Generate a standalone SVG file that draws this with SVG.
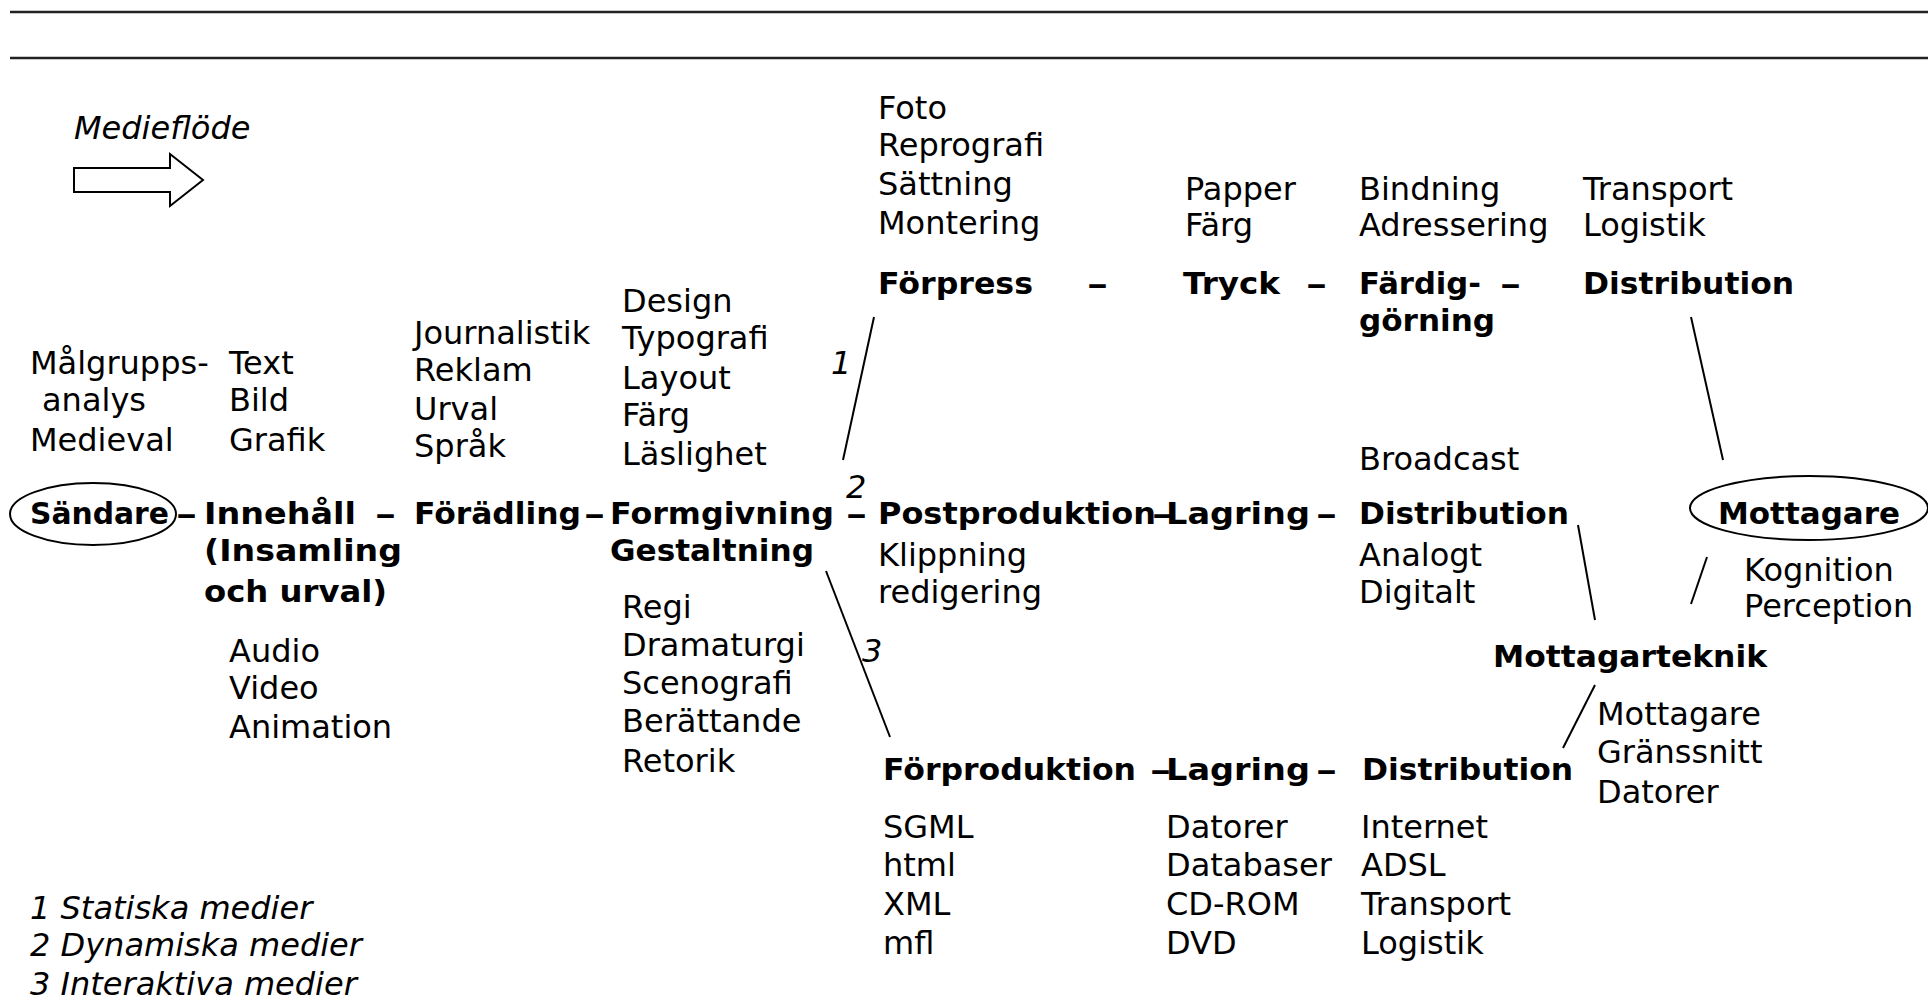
<svg xmlns="http://www.w3.org/2000/svg" width="1928" height="1008" viewBox="0 0 1928 1008">
<style>
text{font-family:"DejaVu Sans",Verdana,sans-serif;font-size:32px;fill:#000}
.b{font-weight:bold;font-size:31px}
.i{font-style:italic}
.ln{stroke:#000;stroke-width:2;fill:none}
.rule{stroke:#222;stroke-width:2.5}
.ell{stroke:#000;stroke-width:2;fill:none}
</style>
<rect width="1928" height="1008" fill="#fff"/>
<g id="frame">
<line class="rule" x1="10" y1="12" x2="1928" y2="12"/>
<line class="rule" x1="10" y1="58" x2="1928" y2="58"/>
</g>
<g id="medieflode">
<text class="i" x="74" y="139">Medieflöde</text>
<path d="M74 168 H170 V154 L203 180 L170 206 V192 H74 Z" fill="#fff" stroke="#000" stroke-width="2"/>
</g>
<g id="connectors">
<line class="ln" x1="874" y1="317" x2="843" y2="460"/>
<line class="ln" x1="826" y1="571" x2="890" y2="737"/>
<line class="ln" x1="1691" y1="317" x2="1723" y2="460"/>
<line class="ln" x1="1578" y1="525" x2="1595" y2="620"/>
<line class="ln" x1="1707" y1="557" x2="1691" y2="604"/>
<line class="ln" x1="1595" y1="685" x2="1563" y2="748"/>
<g id="dashes">
<text class="b" x="176" y="524" textLength="21" lengthAdjust="spacingAndGlyphs">–</text>
<text class="b" x="375" y="524" textLength="21" lengthAdjust="spacingAndGlyphs">–</text>
<text class="b" x="584" y="524" textLength="21" lengthAdjust="spacingAndGlyphs">–</text>
<text class="b" x="846" y="524" textLength="21" lengthAdjust="spacingAndGlyphs">–</text>
<text class="b" x="1152" y="524" textLength="21" lengthAdjust="spacingAndGlyphs">–</text>
<text class="b" x="1316" y="524" textLength="21" lengthAdjust="spacingAndGlyphs">–</text>
<text class="b" x="1087" y="294" textLength="21" lengthAdjust="spacingAndGlyphs">–</text>
<text class="b" x="1306" y="294" textLength="21" lengthAdjust="spacingAndGlyphs">–</text>
<text class="b" x="1500" y="294" textLength="21" lengthAdjust="spacingAndGlyphs">–</text>
<text class="b" x="1150" y="780" textLength="21" lengthAdjust="spacingAndGlyphs">–</text>
<text class="b" x="1316" y="780" textLength="21" lengthAdjust="spacingAndGlyphs">–</text>
</g>
<text class="i" x="831" y="374">1</text>
<text class="i" x="846" y="498">2</text>
<text class="i" x="862" y="662">3</text>
</g>
<g id="sandare">
<ellipse class="ell" cx="93" cy="514" rx="83" ry="31"/>
<text class="b" x="30" y="524" textLength="139" lengthAdjust="spacingAndGlyphs">Sändare</text>
<text x="30" y="374">Målgrupps-</text>
<text x="42" y="411">analys</text>
<text x="30" y="451">Medieval</text>
</g>
<g id="innehall">
<text class="b" x="204" y="524" textLength="152" lengthAdjust="spacingAndGlyphs">Innehåll</text>
<text class="b" x="204" y="561" textLength="198" lengthAdjust="spacingAndGlyphs">(Insamling</text>
<text class="b" x="204" y="602" textLength="183" lengthAdjust="spacingAndGlyphs">och urval)</text>
<text x="229" y="374">Text</text>
<text x="229" y="411">Bild</text>
<text x="229" y="451">Grafik</text>
<text x="229" y="662">Audio</text>
<text x="229" y="699">Video</text>
<text x="229" y="738">Animation</text>
</g>
<g id="foradling">
<text class="b" x="414" y="524" textLength="167" lengthAdjust="spacingAndGlyphs">Förädling</text>
<text x="414" y="344">Journalistik</text>
<text x="414" y="381">Reklam</text>
<text x="414" y="420">Urval</text>
<text x="414" y="457">Språk</text>
</g>
<g id="formgivning">
<text class="b" x="610" y="524" textLength="224" lengthAdjust="spacingAndGlyphs">Formgivning</text>
<text class="b" x="610" y="561" textLength="204" lengthAdjust="spacingAndGlyphs">Gestaltning</text>
<text x="622" y="312">Design</text>
<text x="622" y="349">Typografi</text>
<text x="622" y="389">Layout</text>
<text x="622" y="426">Färg</text>
<text x="622" y="465">Läslighet</text>
<text x="622" y="618">Regi</text>
<text x="622" y="656">Dramaturgi</text>
<text x="622" y="694">Scenografi</text>
<text x="622" y="732">Berättande</text>
<text x="622" y="772">Retorik</text>
</g>
<g id="forpress">
<text class="b" x="878" y="294" textLength="155" lengthAdjust="spacingAndGlyphs">Förpress</text>
<text x="878" y="119">Foto</text>
<text x="878" y="156">Reprografi</text>
<text x="878" y="195">Sättning</text>
<text x="878" y="234">Montering</text>
</g>
<g id="tryck">
<text class="b" x="1183" y="294" textLength="97" lengthAdjust="spacingAndGlyphs">Tryck</text>
<text x="1185" y="200">Papper</text>
<text x="1185" y="236">Färg</text>
</g>
<g id="fardiggorning">
<text class="b" x="1359" y="294" textLength="122" lengthAdjust="spacingAndGlyphs">Färdig-</text>
<text class="b" x="1359" y="331" textLength="136" lengthAdjust="spacingAndGlyphs">görning</text>
<text x="1359" y="200">Bindning</text>
<text x="1359" y="236">Adressering</text>
</g>
<g id="distribution-print">
<text class="b" x="1583" y="294" textLength="211" lengthAdjust="spacingAndGlyphs">Distribution</text>
<text x="1583" y="200">Transport</text>
<text x="1583" y="236">Logistik</text>
</g>
<g id="postproduktion">
<text class="b" x="878" y="524" textLength="278" lengthAdjust="spacingAndGlyphs">Postproduktion</text>
<text x="878" y="566">Klippning</text>
<text x="878" y="603">redigering</text>
</g>
<g id="lagring-dyn">
<text class="b" x="1166" y="524" textLength="144" lengthAdjust="spacingAndGlyphs">Lagring</text>
</g>
<g id="distribution-dyn">
<text class="b" x="1359" y="524" textLength="210" lengthAdjust="spacingAndGlyphs">Distribution</text>
<text x="1359" y="470">Broadcast</text>
<text x="1359" y="566">Analogt</text>
<text x="1359" y="603">Digitalt</text>
</g>
<g id="mottagare">
<ellipse class="ell" cx="1809" cy="508" rx="119" ry="32"/>
<text class="b" x="1718" y="524" textLength="182" lengthAdjust="spacingAndGlyphs">Mottagare</text>
<text x="1744" y="581">Kognition</text>
<text x="1744" y="617">Perception</text>
</g>
<g id="mottagarteknik">
<text class="b" x="1493" y="667" textLength="274" lengthAdjust="spacingAndGlyphs">Mottagarteknik</text>
<text x="1597" y="725">Mottagare</text>
<text x="1597" y="763">Gränssnitt</text>
<text x="1597" y="803">Datorer</text>
</g>
<g id="forproduktion">
<text class="b" x="883" y="780" textLength="253" lengthAdjust="spacingAndGlyphs">Förproduktion</text>
<text x="883" y="838">SGML</text>
<text x="883" y="876">html</text>
<text x="883" y="915">XML</text>
<text x="883" y="954">mfl</text>
</g>
<g id="lagring-int">
<text class="b" x="1166" y="780" textLength="144" lengthAdjust="spacingAndGlyphs">Lagring</text>
<text x="1166" y="838">Datorer</text>
<text x="1166" y="876">Databaser</text>
<text x="1166" y="915">CD-ROM</text>
<text x="1166" y="954">DVD</text>
</g>
<g id="distribution-int">
<text class="b" x="1362" y="780" textLength="211" lengthAdjust="spacingAndGlyphs">Distribution</text>
<text x="1361" y="838">Internet</text>
<text x="1361" y="876">ADSL</text>
<text x="1361" y="915">Transport</text>
<text x="1361" y="954">Logistik</text>
</g>
<g id="legend">
<text class="i" x="30" y="919">1 Statiska medier</text>
<text class="i" x="30" y="956">2 Dynamiska medier</text>
<text class="i" x="30" y="995">3 Interaktiva medier</text>
</g>
</svg>
